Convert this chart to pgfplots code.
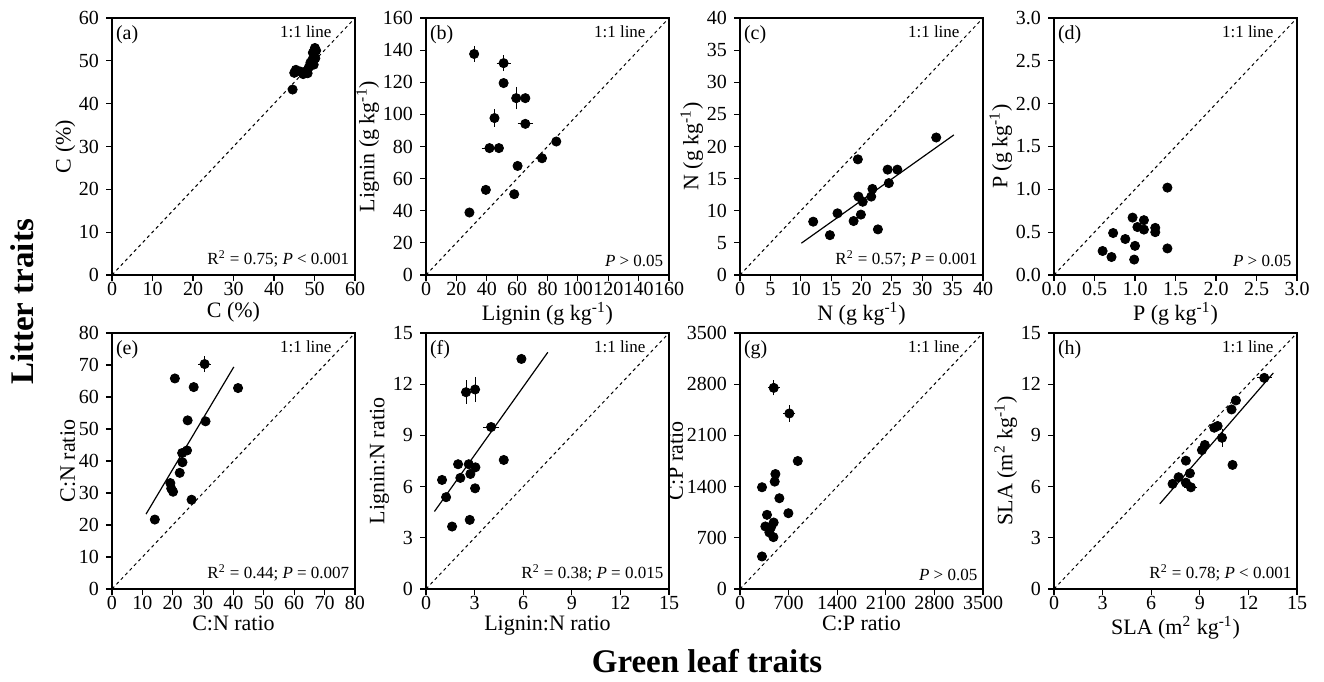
\documentclass[border=0pt]{standalone}
\usepackage{pgfplots}
\pgfplotsset{compat=1.18}
\usepackage{fontspec}
\setmainfont{Liberation Serif}

\pgfplotsset{
  panel/.style={
    scale only axis, width=121.5pt, height=128.5pt,
    xmin=0, ymin=0, anchor=south west,
    axis line style={line width=0.6pt},
    tick align=outside, xtick pos=bottom, ytick pos=left,
    major tick length=3pt,
    every tick/.style={black, line width=0.6pt},
    tick label style={font=\fontsize{10}{12}\selectfont},
    label style={font=\fontsize{11}{13}\selectfont},
    xticklabel shift=-3pt,
    xlabel style={yshift=3.5pt},
    ylabel style={yshift=-5pt},
    /pgf/number format/assume math mode=true,
    /pgf/number format/1000 sep={},
    clip=false,
  },
  pts/.style={only marks, mark=*, mark size=2.3pt, black,
    error bars/.cd, x dir=both, x explicit, y dir=both, y explicit,
    error bar style={line width=0.5pt, black},
    error mark options={mark size=1.6pt, line width=0.5pt, black}},
  oneone/.style={black, line width=0.5pt, dash pattern=on 1.6pt off 1.6pt, no marks},
  fitl/.style={black, line width=0.6pt, no marks},
}
\newcommand{\annot}[2]{%
  \node[anchor=north west, inner sep=0pt, font=\fontsize{10}{12}\selectfont] at (rel axis cs:0.015,0.972) {#1};
  \node[anchor=north east, inner sep=0pt, font=\fontsize{8.5}{10}\selectfont] at (rel axis cs:0.905,0.972) {1:1 line};
  \node[anchor=south east, inner sep=0pt, font=\fontsize{8.5}{10}\selectfont] at (rel axis cs:0.978,0.03) {#2};
}

\pgfplotstableread{
x y ex ey
44.6 43.3 0 0
45.0 47.2 0 0
45.4 47.9 0 0
46.5 47.5 0 0
47.2 46.9 0 0
48.0 47.6 0 0
48.6 48.5 0 0
49.0 49.6 0 0
49.5 50.3 0 0
49.8 49.1 0 0
50.2 50.6 0 0
49.6 51.9 0 0
50.1 53.0 0 0
50.4 52.4 0 0
48.3 47.1 0 0
}\dataA
\pgfplotstableread{
x y ex ey
31.7 137.6 0 3
51.1 131.9 2.5 3
51.1 119.5 0 0
59.4 110.1 0 5
65.4 110.1 0 0
45.1 97.7 0 3.5
65.4 94.1 3 0
41.8 79.0 3 0
48.0 79.0 0 0
60.3 67.9 0 0
76.4 72.7 0 0
85.8 83.1 0 0
39.4 53.0 0 0
58.1 50.3 0 0
28.6 38.9 0 0
}\dataB
\pgfplotstableread{
x y ex ey
12.05 8.3 0 0
14.8 6.2 0 0
16.05 9.6 0 0
18.7 8.4 0 0
19.4 18.0 0 0
19.5 12.2 0 0
19.9 9.4 0 0
20.2 11.4 0 0
21.6 12.2 0 0
21.8 13.4 0 0
22.7 7.1 0 0
24.3 16.4 0 0
24.5 14.3 0 0
25.9 16.4 0 0
32.3 21.4 0 0
}\dataC
\pgfplotstableread{
x y ex ey
0.60 0.28 0 0
0.71 0.21 0 0
0.73 0.49 0 0
0.88 0.42 0 0
0.97 0.67 0 0
1.00 0.34 0 0
0.99 0.18 0 0
1.03 0.56 0 0
1.11 0.64 0 0
1.11 0.53 0 0
1.25 0.55 0 0
1.25 0.50 0 0
1.40 1.02 0 0
1.40 0.31 0 0
}\dataD
\pgfplotstableread{
x y ex ey
30.5 70.3 1 1.5
20.7 65.8 0 0
26.9 63.1 0 0
41.5 62.8 0 0
24.9 52.7 0 0
30.8 52.4 0 0
24.7 43.3 0 0
23.1 42.5 0 0
23.2 39.6 0 0
22.3 36.3 0 0
19.2 33.1 0 0
19.5 31.4 0 0
20.1 30.4 0 0
26.2 27.9 0 0
14.1 21.7 0 0
}\dataE
\pgfplotstableread{
x y ex ey
5.89 13.48 0 0
2.47 11.53 0 0.5
3.03 11.69 0 0.55
4.02 9.49 0.3 0
4.80 7.56 0 0
1.98 7.31 0 0
2.64 7.31 0 0
3.05 7.13 0 0
2.74 6.74 0 0
2.12 6.51 0 0
0.99 6.39 0 0
3.03 5.90 0 0
1.24 5.38 0 0
2.70 4.05 0 0
1.61 3.66 0 0
}\dataF
\pgfplotstableread{
x y ex ey
486 2750 40 60
711 2400 40 70
832 1750 0 0
510 1572 0 0
500 1468 0 0
317 1391 0 0
567 1241 0 0
697 1036 0 0
389 1014 0 0
485 909 0 0
365 855 0 0
447 845 0 0
423 773 0 0
481 709 0 0
317 445 0 0
}\dataG
\pgfplotstableread{
x y ex ey
12.98 12.37 0.25 0
11.23 11.05 0 0
10.96 10.52 0 0
10.10 9.55 0 0
9.89 9.45 0 0
10.37 8.86 0 0.35
9.31 8.44 0 0
9.13 8.14 0 0
11.02 7.27 0 0
8.14 7.52 0 0
8.39 6.78 0 0
7.69 6.55 0 0
8.14 6.23 0 0
8.45 5.96 0.2 0
7.32 6.16 0 0
}\dataH

\begin{document}
\begin{tikzpicture}
\useasboundingbox (0,0) rectangle (662pt,340.5pt);

% (a)
\begin{axis}[panel, at={(56pt,203pt)}, xmax=60, ymax=60,
  xtick={0,10,...,60}, ytick={0,10,...,60},
  xlabel={C (\%)}, ylabel={C (\%)}]
\addplot[oneone] coordinates {(0,0) (60,60)};
\addplot[pts] table[x=x, y=y, x error=ex, y error=ey] {\dataA};
\annot{(a)}{R\textsuperscript{2} = 0.75; \textit{P} < 0.001}
\end{axis}

% (b)
\begin{axis}[panel, at={(213pt,203pt)}, xmax=160, ymax=160,
  xtick={0,20,...,160}, ytick={0,20,...,160},
  xlabel={Lignin (g kg\textsuperscript{-1})}, ylabel={Lignin (g kg\textsuperscript{-1})}]
\addplot[oneone] coordinates {(0,0) (160,160)};
\addplot[pts] table[x=x, y=y, x error=ex, y error=ey] {\dataB};
\annot{(b)}{\textit{P} > 0.05}
\end{axis}

% (c)
\begin{axis}[panel, at={(370pt,203pt)}, xmax=40, ymax=40,
  xtick={0,5,...,40}, ytick={0,5,...,40},
  xlabel={N (g kg\textsuperscript{-1})}, ylabel={N (g kg\textsuperscript{-1})}]
\addplot[oneone] coordinates {(0,0) (40,40)};
\addplot[fitl] coordinates {(10.1,4.95) (35.2,21.8)};
\addplot[pts] table[x=x, y=y, x error=ex, y error=ey] {\dataC};
\annot{(c)}{R\textsuperscript{2} = 0.57; \textit{P} = 0.001}
\end{axis}

% (d)
\begin{axis}[panel, at={(527pt,203pt)}, xmax=3, ymax=3,
  xtick={0,0.5,...,3}, ytick={0,0.5,...,3},
  xticklabel style={/pgf/number format/.cd, fixed, fixed zerofill, precision=1},
  yticklabel style={/pgf/number format/.cd, fixed, fixed zerofill, precision=1},
  xlabel={P (g kg\textsuperscript{-1})}, ylabel={P (g kg\textsuperscript{-1})}]
\addplot[oneone] coordinates {(0,0) (3,3)};
\addplot[pts] table[x=x, y=y, x error=ex, y error=ey] {\dataD};
\annot{(d)}{\textit{P} > 0.05}
\end{axis}

% (e)
\begin{axis}[panel, height=128pt, at={(56pt,46pt)}, xmax=80, ymax=80,
  xtick={0,10,...,80}, ytick={0,10,...,80},
  xlabel={C:N ratio}, ylabel={C:N ratio}]
\addplot[oneone] coordinates {(0,0) (80,80)};
\addplot[fitl] coordinates {(11.2,23.4) (40.1,69.4)};
\addplot[pts] table[x=x, y=y, x error=ex, y error=ey] {\dataE};
\annot{(e)}{R\textsuperscript{2} = 0.44; \textit{P} = 0.007}
\end{axis}

% (f)
\begin{axis}[panel, height=128pt, at={(213pt,46pt)}, xmax=15, ymax=15,
  xtick={0,3,...,15}, ytick={0,3,...,15},
  xlabel={Lignin:N ratio}, ylabel={Lignin:N ratio}]
\addplot[oneone] coordinates {(0,0) (15,15)};
\addplot[fitl] coordinates {(0.52,4.54) (7.52,13.87)};
\addplot[pts] table[x=x, y=y, x error=ex, y error=ey] {\dataF};
\annot{(f)}{R\textsuperscript{2} = 0.38; \textit{P} = 0.015}
\end{axis}

% (g)
\begin{axis}[panel, height=128pt, at={(370pt,46pt)}, xmax=3500, ymax=3500,
  xtick={0,700,...,3500}, ytick={0,700,...,3500},
  scaled ticks=false,
  xlabel={C:P ratio}, ylabel={C:P ratio}]
\addplot[oneone] coordinates {(0,0) (3500,3500)};
\addplot[pts] table[x=x, y=y, x error=ex, y error=ey] {\dataG};
\annot{(g)}{\textit{P} > 0.05}
\end{axis}

% (h)
\begin{axis}[panel, height=128pt, at={(527pt,46pt)}, xmax=15, ymax=15,
  xtick={0,3,...,15}, ytick={0,3,...,15},
  xlabel={SLA (m\textsuperscript{2} kg\textsuperscript{-1})}, ylabel={SLA (m\textsuperscript{2} kg\textsuperscript{-1})}]
\addplot[oneone] coordinates {(0,0) (15,15)};
\addplot[fitl] coordinates {(6.53,4.99) (13.54,12.66)};
\addplot[pts] table[x=x, y=y, x error=ex, y error=ey] {\dataH};
\annot{(h)}{R\textsuperscript{2} = 0.78; \textit{P} < 0.001}
\end{axis}

\node[rotate=90, anchor=base, inner sep=0pt, font=\fontsize{16.5}{18}\selectfont\bfseries] at (16.5pt,189.5pt) {Litter traits};
\node[anchor=base, inner sep=0pt, font=\fontsize{16.5}{18}\selectfont\bfseries] at (353.5pt,4.5pt) {Green leaf traits};
\end{tikzpicture}
\end{document}
